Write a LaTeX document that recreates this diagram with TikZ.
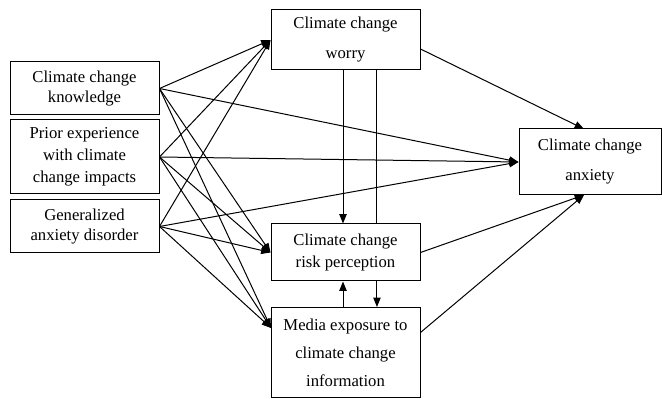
\documentclass[tikz,border=0pt]{standalone}
\usepackage{fontspec}
\setmainfont{Liberation Serif}
\usetikzlibrary{arrows.meta}

\tikzset{
  varbox/.style={draw,line width=0.75pt,fill=white,align=center,inner sep=0pt,
    minimum width=111.75pt,font=\fontsize{12.5}{15}\selectfont},
  effect/.style={line width=0.75pt,-{Triangle[length=7pt,width=5.5pt]}},
  plainline/.style={line width=0.75pt}
}

\begin{document}
\begin{tikzpicture}[x=0.75pt,y=-0.75pt]
        \useasboundingbox (0,0) rectangle (662,399);
        % exogenous variables
        \node[varbox,minimum height=39.75pt] (know) at (84.5,88.5) {Climate change\\knowledge};
        \node[varbox,minimum height=55.5pt,font=\fontsize{12.5}{16.5}\selectfont] (prior) at (84.5,157) {Prior experience\\with climate\\change impacts};
        \node[varbox,minimum height=39.75pt,font=\fontsize{12.5}{14.5}\selectfont] (gad) at (84.5,226.5) {Generalized\\anxiety disorder};
        % mediators
        \node[varbox,minimum height=45pt,font=\fontsize{12.5}{22.5}\selectfont] (worry) at (345.5,40) {Climate change\\worry};
        \node[varbox,minimum height=42.75pt,font=\fontsize{12.5}{16}\selectfont] (risk) at (345.5,252.5) {Climate change\\risk perception};
        \node[varbox,minimum height=67.5pt,font=\fontsize{12.5}{21}\selectfont] (media) at (345.5,352.5) {Media exposure to\\climate change\\information};
        % outcome
        \node[varbox,minimum width=106.5pt,minimum height=49.5pt,font=\fontsize{12.5}{22.5}\selectfont] (anx) at (590,162) {Climate change\\anxiety};

        \coordinate (mediain) at (271,328);
        \coordinate (anxtop) at (584,129);
        \coordinate (anxbot) at (584,195);

        % paths from each exogenous variable
        \foreach \src in {know,prior,gad} {
          \draw[effect] (\src.east) -- (worry.west);
          \draw[effect] (\src.east) -- (anx.west);
          \draw[effect] (\src.east) -- (risk.west);
          \draw[effect] (\src.east) -- (mediain);
        }
        % paths to anxiety
        \draw[effect] (worry.east) ++(0,9) -- (anxtop);
        \draw[effect] (risk.east) -- (anxbot);
        \draw[effect] (media.east) ++(0,-20) -- (anxbot);
        % vertical paths
        \draw[effect] ([xshift=-1.875pt]worry.south) -- ([xshift=-1.875pt]risk.north);
        \draw[plainline] ([xshift=23.6pt]worry.south) -- ([xshift=23.6pt]risk.north);
        \draw[effect] ([xshift=23.6pt]risk.south) -- ([xshift=23.6pt]media.north);
        \draw[effect] ([xshift=-1.875pt]media.north) -- ([xshift=-1.875pt]risk.south);
\end{tikzpicture}
\end{document}
